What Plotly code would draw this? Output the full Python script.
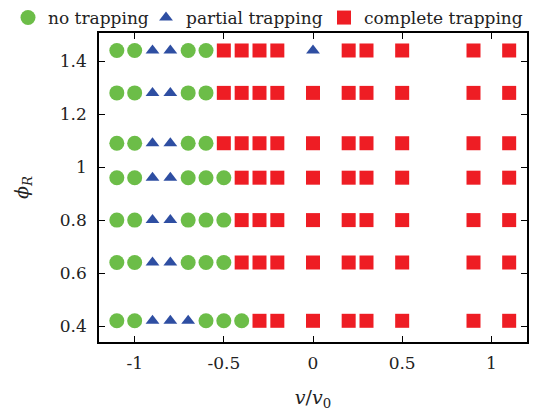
import plotly.graph_objects as go

# data
v_values = [-1.1, -1.0, -0.9, -0.8, -0.7, -0.6, -0.5, -0.4, -0.3, -0.2, 0.0, 0.2, 0.3, 0.5, 0.9, 1.1]
phi_R = [0.42, 0.64, 0.80, 0.96, 1.09, 1.28, 1.44]
# N = no trapping, P = partial trapping, C = complete trapping (one code per v value)
regimes = [
    "NNPPPNNNCCCCCCCC",  # 0.42
    "NNPPNNNCCCCCCCCC",  # 0.64
    "NNPPNNNCCCCCCCCC",  # 0.80
    "NNPPNNNCCCCCCCCC",  # 0.96
    "NNPPNNCCCCCCCCCC",  # 1.09
    "NNPPNNCCCCCCCCCC",  # 1.28
    "NNPPNNCCCCPCCCCC",  # 1.44
]
x_ticks = [-1, -0.5, 0, 0.5, 1]
x_tick_labels = ["-1", "-0.5", "0", "0.5", "1"]
y_ticks = [0.4, 0.6, 0.8, 1.0, 1.2, 1.4]
y_tick_labels = ["0.4", "0.6", "0.8", "1", "1.2", "1.4"]

classes = [
    ("N", "no trapping", "circle", 15, "#6cbd48", "legend"),
    ("P", "partial trapping", "triangle-up", 12, "#2e4ea2", "legend2"),
    ("C", "complete trapping", "square", 14, "#ee1d24", "legend3"),
]

FONT = "DejaVu Serif"
fig = go.Figure()
for code, name, sym, size, color, lg in classes:
    xs, ys = [], []
    for phi, row in zip(phi_R, regimes):
        for v, c in zip(v_values, row):
            if c == code:
                xs.append(v)
                ys.append(phi)
    fig.add_trace(go.Scatter(
        x=xs, y=ys, mode="markers", name=name, legend=lg,
        marker=dict(symbol=sym, size=size, color=color, line=dict(width=0)),
    ))

axis_common = dict(
    showline=True, linecolor="black", linewidth=1.5, mirror="ticks",
    ticks="inside", ticklen=6, tickwidth=1.2, tickcolor="black",
    showgrid=False, zeroline=False,
    tickfont=dict(family=FONT, size=17, color="#222"),
)
fig.update_xaxes(range=[-1.2, 1.2], tickvals=x_ticks, ticktext=x_tick_labels,
                 ticklabelstandoff=5,
                 title=dict(text="<i>v</i>/<i>v</i><sub>0</sub>",
                            font=dict(family=FONT, size=19, color="#222"), standoff=19),
                 **axis_common)
fig.update_yaxes(range=[0.34, 1.506], tickvals=y_ticks, ticktext=y_tick_labels,
                 ticklabelstandoff=7,
                 title=dict(text="<i>ϕ</i><sub><i>R</i></sub>",
                            font=dict(family=FONT, size=19, color="#222"), standoff=26),
                 **axis_common)

def legend_at(xpx):
    return dict(orientation="h", xref="container", yref="container",
                x=xpx / 555, y=1.0, xanchor="left", yanchor="top",
                font=dict(family=FONT, size=17, color="#222"),
                bgcolor="rgba(0,0,0,0)", itemsizing="trace")

fig.update_layout(
    width=555, height=414,
    margin=dict(l=99, r=28, t=33, b=72, autoexpand=False),
    paper_bgcolor="white", plot_bgcolor="white",
    showlegend=True,
    legend=legend_at(8),
    legend2=legend_at(146),
    legend3=legend_at(324),
)

fig.write_html("out.html")
